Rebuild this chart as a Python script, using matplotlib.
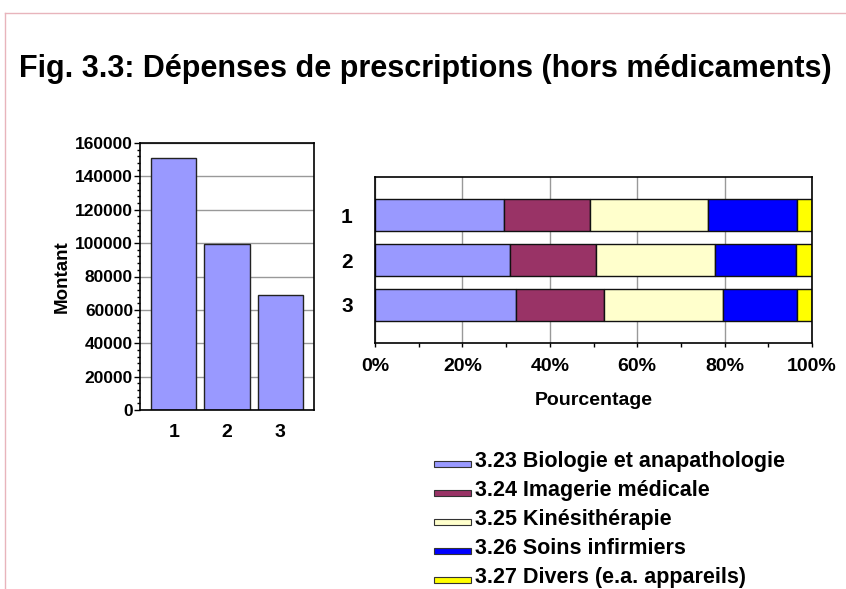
import matplotlib.pyplot as plt
from matplotlib.patches import Rectangle
from matplotlib.ticker import MultipleLocator, PercentFormatter
import numpy as np

plt.rcParams['font.family'] = ['Liberation Sans', 'DejaVu Sans']
plt.rcParams['font.weight'] = 'bold'

groups = ['1', '2', '3']
montant = [151000, 99300, 68700]

categories = ['3.23 Biologie et anapathologie', '3.24 Imagerie médicale',
              '3.25 Kinésithérapie', '3.26 Soins infirmiers',
              '3.27 Divers (e.a. appareils)']
colors = ['#9999ff', '#993366', '#ffffcc', '#0000ff', '#ffff00']
# share per group (%), rows = categories
shares = [
    [29.6, 30.9, 32.2],
    [19.5, 19.6, 20.3],
    [27.1, 27.2, 27.1],
    [20.4, 18.6, 17.0],
    [3.4, 3.7, 3.4],
]

W, H = 846, 589
fig = plt.figure(figsize=(W / 100, H / 100), dpi=100)

def px(x0, y0, x1, y1):
    return [x0 / W, 1 - y1 / H, (x1 - x0) / W, (y1 - y0) / H]

# frame lines (pink)
fig.add_artist(plt.Line2D([5 / W, 1], [1 - 13 / H, 1 - 13 / H], color='#e8b4bc', lw=1))
fig.add_artist(plt.Line2D([5 / W, 5 / W], [0, 1 - 13 / H], color='#e8b4bc', lw=1))

fig.text(425 / W, 1 - 69 / H, 'Fig. 3.3: Dépenses de prescriptions (hors médicaments)',
         ha='center', va='center', fontsize=22, fontweight='bold')

# left: amounts
ax1 = fig.add_axes(px(140, 143, 314, 410))
x = np.arange(1, len(groups) + 1)
ax1.bar(x, montant, width=0.85, color=colors[0], edgecolor='#222222', lw=1, zorder=2)
ax1.set_xlim(0.36, 3.64)
ax1.set_ylim(0, 160000)
ax1.set_xticks(x)
ax1.set_xticklabels(groups)
ax1.yaxis.set_major_locator(MultipleLocator(20000))
ax1.yaxis.set_minor_locator(MultipleLocator(4000))
ax1.grid(axis='y', color='#999999', lw=1, zorder=0)
ax1.tick_params(axis='y', which='major', length=4, width=1, labelsize=12.5, pad=1)
ax1.tick_params(axis='y', which='minor', length=2, width=1)
ax1.tick_params(axis='x', length=0, labelsize=14, pad=10)
ax1.set_ylabel('Montant', fontsize=13.5, fontweight='bold', labelpad=3)
for s in ax1.spines.values():
    s.set_linewidth(1.2)

# right: percentage stacked
ax2 = fig.add_axes(px(375, 177, 812, 343))
y = np.arange(1, len(groups) + 1)
left = np.zeros(len(groups))
for vals, c in zip(shares, colors):
    ax2.barh(y, vals, left=left, height=0.71, color=c, edgecolor='#111111', lw=1, zorder=2)
    left = left + np.array(vals)
ax2.set_xlim(0, 100)
ax2.set_ylim(3.85, 0.15)
ax2.set_yticks(y)
ax2.set_yticklabels(groups)
ax2.xaxis.set_major_locator(MultipleLocator(20))
ax2.xaxis.set_minor_locator(MultipleLocator(10))
ax2.xaxis.set_major_formatter(PercentFormatter(decimals=0))
ax2.grid(axis='x', color='#999999', lw=1, zorder=0)
ax2.tick_params(axis='x', which='both', length=3, width=1, labelsize=14, pad=8)
ax2.tick_params(axis='y', length=0, labelsize=15, pad=16)
ax2.set_xlabel('Pourcentage', fontsize=14, fontweight='bold', labelpad=12)
for s in ax2.spines.values():
    s.set_linewidth(1.2)

# legend drawn manually
for i, (lab, c) in enumerate(zip(categories, colors)):
    yb = 467 + i * 29
    fig.add_artist(Rectangle((434 / W, 1 - yb / H), 37 / W, 6 / H,
                             facecolor=c, edgecolor='#333333', lw=0.8))
    fig.text(475 / W, 1 - yb / H, lab, ha='left', va='baseline', fontsize=15.5)

fig.savefig('out.png', dpi=100)
